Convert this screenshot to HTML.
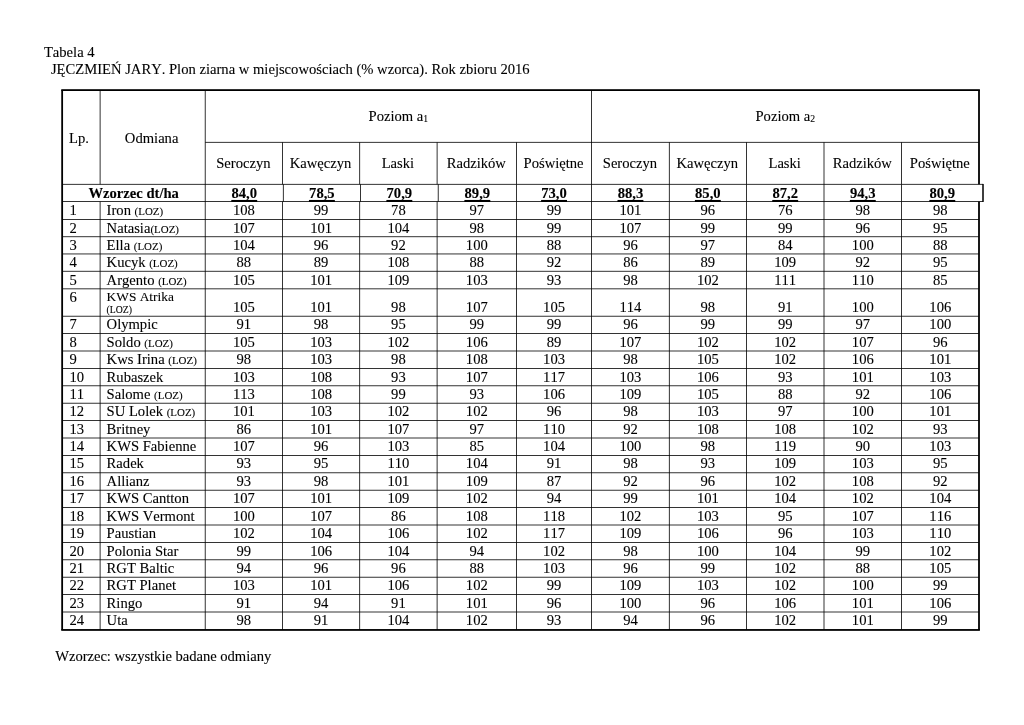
<!DOCTYPE html>
<html lang="pl"><head><meta charset="utf-8"><title>Tabela 4</title><style>
html,body{margin:0;padding:0;background:#fff;}
body{width:1024px;height:725px;position:relative;overflow:hidden;font-family:"Liberation Serif",serif;font-size:14.62px;color:#000;font-kerning:none;font-variant-ligatures:none;-webkit-text-stroke:0.1px #000;}
.t{position:absolute;line-height:20px;height:20px;white-space:nowrap;}
.b{font-weight:bold;}
.s{font-size:10.95px;}
.sub{font-size:9.7px;position:relative;top:1px;}
.grid{position:absolute;left:0;top:0;}
</style></head>
<body>
<svg class="grid" width="1024" height="725" viewBox="0 0 1024 725">
<rect x="205.20" y="141.90" width="773.80" height="0.80" fill="#000"/>
<rect x="62.15" y="183.90" width="920.85" height="0.80" fill="#000"/>
<rect x="62.15" y="201.20" width="920.85" height="0.80" fill="#000"/>
<rect x="62.15" y="219.00" width="916.85" height="0.80" fill="#000"/>
<rect x="62.15" y="236.35" width="916.85" height="0.80" fill="#000"/>
<rect x="62.15" y="253.55" width="916.85" height="0.80" fill="#000"/>
<rect x="62.15" y="270.85" width="916.85" height="0.80" fill="#000"/>
<rect x="62.15" y="288.45" width="916.85" height="0.80" fill="#000"/>
<rect x="62.15" y="315.80" width="916.85" height="0.80" fill="#000"/>
<rect x="62.15" y="333.20" width="916.85" height="0.80" fill="#000"/>
<rect x="62.15" y="350.60" width="916.85" height="0.80" fill="#000"/>
<rect x="62.15" y="368.00" width="916.85" height="0.80" fill="#000"/>
<rect x="62.15" y="385.40" width="916.85" height="0.80" fill="#000"/>
<rect x="62.15" y="402.80" width="916.85" height="0.80" fill="#000"/>
<rect x="62.15" y="420.20" width="916.85" height="0.80" fill="#000"/>
<rect x="62.15" y="437.60" width="916.85" height="0.80" fill="#000"/>
<rect x="62.15" y="455.00" width="916.85" height="0.80" fill="#000"/>
<rect x="62.15" y="472.40" width="916.85" height="0.80" fill="#000"/>
<rect x="62.15" y="489.80" width="916.85" height="0.80" fill="#000"/>
<rect x="62.15" y="507.20" width="916.85" height="0.80" fill="#000"/>
<rect x="62.15" y="524.60" width="916.85" height="0.80" fill="#000"/>
<rect x="62.15" y="542.00" width="916.85" height="0.80" fill="#000"/>
<rect x="62.15" y="559.40" width="916.85" height="0.80" fill="#000"/>
<rect x="62.15" y="576.80" width="916.85" height="0.80" fill="#000"/>
<rect x="62.15" y="594.20" width="916.85" height="0.80" fill="#000"/>
<rect x="62.15" y="611.60" width="916.85" height="0.80" fill="#000"/>
<rect x="99.70" y="90.10" width="0.80" height="94.20" fill="#000"/>
<rect x="99.70" y="201.60" width="0.80" height="428.35" fill="#000"/>
<rect x="204.80" y="90.10" width="0.80" height="539.85" fill="#000"/>
<rect x="591.20" y="90.10" width="0.80" height="539.85" fill="#000"/>
<rect x="282.10" y="142.30" width="0.80" height="42.00" fill="#000"/>
<rect x="282.10" y="201.60" width="0.80" height="428.35" fill="#000"/>
<rect x="359.30" y="142.30" width="0.80" height="42.00" fill="#000"/>
<rect x="359.30" y="201.60" width="0.80" height="428.35" fill="#000"/>
<rect x="436.70" y="142.30" width="0.80" height="42.00" fill="#000"/>
<rect x="436.70" y="201.60" width="0.80" height="428.35" fill="#000"/>
<rect x="516.10" y="142.30" width="0.80" height="42.00" fill="#000"/>
<rect x="516.10" y="201.60" width="0.80" height="428.35" fill="#000"/>
<rect x="668.90" y="142.30" width="0.80" height="42.00" fill="#000"/>
<rect x="668.90" y="201.60" width="0.80" height="428.35" fill="#000"/>
<rect x="746.00" y="142.30" width="0.80" height="42.00" fill="#000"/>
<rect x="746.00" y="201.60" width="0.80" height="428.35" fill="#000"/>
<rect x="823.60" y="142.30" width="0.80" height="42.00" fill="#000"/>
<rect x="823.60" y="201.60" width="0.80" height="428.35" fill="#000"/>
<rect x="901.20" y="142.30" width="0.80" height="42.00" fill="#000"/>
<rect x="901.20" y="201.60" width="0.80" height="428.35" fill="#000"/>
<rect x="282.90" y="184.30" width="0.80" height="17.30" fill="#000"/>
<rect x="360.10" y="184.30" width="0.80" height="17.30" fill="#000"/>
<rect x="437.80" y="184.30" width="0.80" height="17.30" fill="#000"/>
<rect x="516.10" y="184.30" width="0.80" height="17.30" fill="#000"/>
<rect x="668.90" y="184.30" width="0.80" height="17.30" fill="#000"/>
<rect x="746.00" y="184.30" width="0.80" height="17.30" fill="#000"/>
<rect x="823.60" y="184.30" width="0.80" height="17.30" fill="#000"/>
<rect x="901.20" y="184.30" width="0.80" height="17.30" fill="#000"/>
<rect x="982.25" y="183.95" width="1.50" height="18.00" fill="#000"/>
<rect x="61.25" y="89.20" width="918.65" height="1.80" fill="#000"/>
<rect x="61.25" y="629.05" width="918.65" height="1.80" fill="#000"/>
<rect x="61.25" y="90.10" width="1.80" height="539.85" fill="#000"/>
<rect x="978.10" y="90.10" width="1.80" height="94.20" fill="#000"/>
<rect x="978.10" y="201.60" width="1.80" height="428.35" fill="#000"/>
<rect x="231.30" y="199.95" width="25.9" height="2.05" fill="#000"/>
<rect x="308.95" y="199.95" width="25.9" height="2.05" fill="#000"/>
<rect x="386.40" y="199.95" width="25.9" height="2.05" fill="#000"/>
<rect x="464.40" y="199.95" width="25.9" height="2.05" fill="#000"/>
<rect x="541.10" y="199.95" width="25.9" height="2.05" fill="#000"/>
<rect x="617.50" y="199.95" width="25.9" height="2.05" fill="#000"/>
<rect x="694.90" y="199.95" width="25.9" height="2.05" fill="#000"/>
<rect x="772.25" y="199.95" width="25.9" height="2.05" fill="#000"/>
<rect x="849.85" y="199.95" width="25.9" height="2.05" fill="#000"/>
<rect x="929.35" y="199.95" width="25.9" height="2.05" fill="#000"/>
</svg>
<div class="t" style="top:42px;left:43.90px;">Tabela 4</div>
<div class="t" style="top:59px;left:50.90px;white-space:pre;">JĘCZMIEŃ JARY. Plon ziarna w miejscowościach (% wzorca). Rok zbioru 2016</div>
<div class="t" style="top:646px;left:55.20px;letter-spacing:-0.03px;">Wzorzec: wszystkie badane odmiany</div>
<div class="t" style="top:128px;left:69.00px;">Lp.</div>
<div class="t" style="top:128px;left:51.65px;width:200px;text-align:center;">Odmiana</div>
<div class="t" style="top:106px;left:298.40px;width:200px;text-align:center;">Poziom a<span class="sub">1</span></div>
<div class="t" style="top:106px;left:685.30px;width:200px;text-align:center;">Poziom a<span class="sub">2</span></div>
<div class="t" style="top:153px;left:143.35px;width:200px;text-align:center;">Seroczyn</div>
<div class="t" style="top:153px;left:220.60px;width:200px;text-align:center;">Kawęczyn</div>
<div class="t" style="top:153px;left:297.90px;width:200px;text-align:center;">Laski</div>
<div class="t" style="top:153px;left:376.30px;width:200px;text-align:center;">Radzików</div>
<div class="t" style="top:153px;left:453.55px;width:200px;text-align:center;">Poświętne</div>
<div class="t" style="top:153px;left:529.95px;width:200px;text-align:center;">Seroczyn</div>
<div class="t" style="top:153px;left:607.35px;width:200px;text-align:center;">Kawęczyn</div>
<div class="t" style="top:153px;left:684.70px;width:200px;text-align:center;">Laski</div>
<div class="t" style="top:153px;left:762.30px;width:200px;text-align:center;">Radzików</div>
<div class="t" style="top:153px;left:839.80px;width:200px;text-align:center;">Poświętne</div>
<div class="t b" style="top:183px;left:33.67px;width:200px;text-align:center;">Wzorzec dt/ha</div>
<div class="t b" style="top:183px;left:144.25px;width:200px;text-align:center;">84,0</div>
<div class="t b" style="top:183px;left:221.90px;width:200px;text-align:center;">78,5</div>
<div class="t b" style="top:183px;left:299.35px;width:200px;text-align:center;">70,9</div>
<div class="t b" style="top:183px;left:377.35px;width:200px;text-align:center;">89,9</div>
<div class="t b" style="top:183px;left:454.05px;width:200px;text-align:center;">73,0</div>
<div class="t b" style="top:183px;left:530.45px;width:200px;text-align:center;">88,3</div>
<div class="t b" style="top:183px;left:607.85px;width:200px;text-align:center;">85,0</div>
<div class="t b" style="top:183px;left:685.20px;width:200px;text-align:center;">87,2</div>
<div class="t b" style="top:183px;left:762.80px;width:200px;text-align:center;">94,3</div>
<div class="t b" style="top:183px;left:842.30px;width:200px;text-align:center;">80,9</div>
<div class="t" style="top:200px;left:69.40px;">1</div>
<div class="t" style="top:200px;left:106.60px;white-space:pre;">Iron <span class="s">(LOZ)</span></div>
<div class="t" style="top:200px;left:143.85px;width:200px;text-align:center;">108</div>
<div class="t" style="top:200px;left:221.10px;width:200px;text-align:center;">99</div>
<div class="t" style="top:200px;left:298.40px;width:200px;text-align:center;">78</div>
<div class="t" style="top:200px;left:376.80px;width:200px;text-align:center;">97</div>
<div class="t" style="top:200px;left:454.05px;width:200px;text-align:center;">99</div>
<div class="t" style="top:200px;left:530.45px;width:200px;text-align:center;">101</div>
<div class="t" style="top:200px;left:607.85px;width:200px;text-align:center;">96</div>
<div class="t" style="top:200px;left:685.20px;width:200px;text-align:center;">76</div>
<div class="t" style="top:200px;left:762.80px;width:200px;text-align:center;">98</div>
<div class="t" style="top:200px;left:840.30px;width:200px;text-align:center;">98</div>
<div class="t" style="top:218px;left:69.40px;">2</div>
<div class="t" style="top:218px;left:106.60px;white-space:pre;">Natasia<span class="s">(LOZ)</span></div>
<div class="t" style="top:218px;left:143.85px;width:200px;text-align:center;">107</div>
<div class="t" style="top:218px;left:221.10px;width:200px;text-align:center;">101</div>
<div class="t" style="top:218px;left:298.40px;width:200px;text-align:center;">104</div>
<div class="t" style="top:218px;left:376.80px;width:200px;text-align:center;">98</div>
<div class="t" style="top:218px;left:454.05px;width:200px;text-align:center;">99</div>
<div class="t" style="top:218px;left:530.45px;width:200px;text-align:center;">107</div>
<div class="t" style="top:218px;left:607.85px;width:200px;text-align:center;">99</div>
<div class="t" style="top:218px;left:685.20px;width:200px;text-align:center;">99</div>
<div class="t" style="top:218px;left:762.80px;width:200px;text-align:center;">96</div>
<div class="t" style="top:218px;left:840.30px;width:200px;text-align:center;">95</div>
<div class="t" style="top:235px;left:69.40px;">3</div>
<div class="t" style="top:235px;left:106.60px;white-space:pre;">Ella <span class="s">(LOZ)</span></div>
<div class="t" style="top:235px;left:143.85px;width:200px;text-align:center;">104</div>
<div class="t" style="top:235px;left:221.10px;width:200px;text-align:center;">96</div>
<div class="t" style="top:235px;left:298.40px;width:200px;text-align:center;">92</div>
<div class="t" style="top:235px;left:376.80px;width:200px;text-align:center;">100</div>
<div class="t" style="top:235px;left:454.05px;width:200px;text-align:center;">88</div>
<div class="t" style="top:235px;left:530.45px;width:200px;text-align:center;">96</div>
<div class="t" style="top:235px;left:607.85px;width:200px;text-align:center;">97</div>
<div class="t" style="top:235px;left:685.20px;width:200px;text-align:center;">84</div>
<div class="t" style="top:235px;left:762.80px;width:200px;text-align:center;">100</div>
<div class="t" style="top:235px;left:840.30px;width:200px;text-align:center;">88</div>
<div class="t" style="top:252px;left:69.40px;">4</div>
<div class="t" style="top:252px;left:106.60px;white-space:pre;">Kucyk <span class="s">(LOZ)</span></div>
<div class="t" style="top:252px;left:143.85px;width:200px;text-align:center;">88</div>
<div class="t" style="top:252px;left:221.10px;width:200px;text-align:center;">89</div>
<div class="t" style="top:252px;left:298.40px;width:200px;text-align:center;">108</div>
<div class="t" style="top:252px;left:376.80px;width:200px;text-align:center;">88</div>
<div class="t" style="top:252px;left:454.05px;width:200px;text-align:center;">92</div>
<div class="t" style="top:252px;left:530.45px;width:200px;text-align:center;">86</div>
<div class="t" style="top:252px;left:607.85px;width:200px;text-align:center;">89</div>
<div class="t" style="top:252px;left:685.20px;width:200px;text-align:center;">109</div>
<div class="t" style="top:252px;left:762.80px;width:200px;text-align:center;">92</div>
<div class="t" style="top:252px;left:840.30px;width:200px;text-align:center;">95</div>
<div class="t" style="top:270px;left:69.40px;">5</div>
<div class="t" style="top:270px;left:106.60px;white-space:pre;">Argento <span class="s">(LOZ)</span></div>
<div class="t" style="top:270px;left:143.85px;width:200px;text-align:center;">105</div>
<div class="t" style="top:270px;left:221.10px;width:200px;text-align:center;">101</div>
<div class="t" style="top:270px;left:298.40px;width:200px;text-align:center;">109</div>
<div class="t" style="top:270px;left:376.80px;width:200px;text-align:center;">103</div>
<div class="t" style="top:270px;left:454.05px;width:200px;text-align:center;">93</div>
<div class="t" style="top:270px;left:530.45px;width:200px;text-align:center;">98</div>
<div class="t" style="top:270px;left:607.85px;width:200px;text-align:center;">102</div>
<div class="t" style="top:270px;left:685.20px;width:200px;text-align:center;">111</div>
<div class="t" style="top:270px;left:762.80px;width:200px;text-align:center;">110</div>
<div class="t" style="top:270px;left:840.30px;width:200px;text-align:center;">85</div>
<div class="t" style="top:287px;left:69.40px;">6</div>
<div class="t" style="top:287px;left:106.60px;font-size:13.38px;">KWS Atrika</div>
<div class="t" style="top:300px;left:106.60px;font-size:9.73px;">(LOZ)</div>
<div class="t" style="top:297px;left:143.85px;width:200px;text-align:center;">105</div>
<div class="t" style="top:297px;left:221.10px;width:200px;text-align:center;">101</div>
<div class="t" style="top:297px;left:298.40px;width:200px;text-align:center;">98</div>
<div class="t" style="top:297px;left:376.80px;width:200px;text-align:center;">107</div>
<div class="t" style="top:297px;left:454.05px;width:200px;text-align:center;">105</div>
<div class="t" style="top:297px;left:530.45px;width:200px;text-align:center;">114</div>
<div class="t" style="top:297px;left:607.85px;width:200px;text-align:center;">98</div>
<div class="t" style="top:297px;left:685.20px;width:200px;text-align:center;">91</div>
<div class="t" style="top:297px;left:762.80px;width:200px;text-align:center;">100</div>
<div class="t" style="top:297px;left:840.30px;width:200px;text-align:center;">106</div>
<div class="t" style="top:314px;left:69.40px;">7</div>
<div class="t" style="top:314px;left:106.60px;white-space:pre;">Olympic</div>
<div class="t" style="top:314px;left:143.85px;width:200px;text-align:center;">91</div>
<div class="t" style="top:314px;left:221.10px;width:200px;text-align:center;">98</div>
<div class="t" style="top:314px;left:298.40px;width:200px;text-align:center;">95</div>
<div class="t" style="top:314px;left:376.80px;width:200px;text-align:center;">99</div>
<div class="t" style="top:314px;left:454.05px;width:200px;text-align:center;">99</div>
<div class="t" style="top:314px;left:530.45px;width:200px;text-align:center;">96</div>
<div class="t" style="top:314px;left:607.85px;width:200px;text-align:center;">99</div>
<div class="t" style="top:314px;left:685.20px;width:200px;text-align:center;">99</div>
<div class="t" style="top:314px;left:762.80px;width:200px;text-align:center;">97</div>
<div class="t" style="top:314px;left:840.30px;width:200px;text-align:center;">100</div>
<div class="t" style="top:332px;left:69.40px;">8</div>
<div class="t" style="top:332px;left:106.60px;white-space:pre;">Soldo <span class="s">(LOZ)</span></div>
<div class="t" style="top:332px;left:143.85px;width:200px;text-align:center;">105</div>
<div class="t" style="top:332px;left:221.10px;width:200px;text-align:center;">103</div>
<div class="t" style="top:332px;left:298.40px;width:200px;text-align:center;">102</div>
<div class="t" style="top:332px;left:376.80px;width:200px;text-align:center;">106</div>
<div class="t" style="top:332px;left:454.05px;width:200px;text-align:center;">89</div>
<div class="t" style="top:332px;left:530.45px;width:200px;text-align:center;">107</div>
<div class="t" style="top:332px;left:607.85px;width:200px;text-align:center;">102</div>
<div class="t" style="top:332px;left:685.20px;width:200px;text-align:center;">102</div>
<div class="t" style="top:332px;left:762.80px;width:200px;text-align:center;">107</div>
<div class="t" style="top:332px;left:840.30px;width:200px;text-align:center;">96</div>
<div class="t" style="top:349px;left:69.40px;">9</div>
<div class="t" style="top:349px;left:106.60px;white-space:pre;">Kws Irina <span class="s">(LOZ)</span></div>
<div class="t" style="top:349px;left:143.85px;width:200px;text-align:center;">98</div>
<div class="t" style="top:349px;left:221.10px;width:200px;text-align:center;">103</div>
<div class="t" style="top:349px;left:298.40px;width:200px;text-align:center;">98</div>
<div class="t" style="top:349px;left:376.80px;width:200px;text-align:center;">108</div>
<div class="t" style="top:349px;left:454.05px;width:200px;text-align:center;">103</div>
<div class="t" style="top:349px;left:530.45px;width:200px;text-align:center;">98</div>
<div class="t" style="top:349px;left:607.85px;width:200px;text-align:center;">105</div>
<div class="t" style="top:349px;left:685.20px;width:200px;text-align:center;">102</div>
<div class="t" style="top:349px;left:762.80px;width:200px;text-align:center;">106</div>
<div class="t" style="top:349px;left:840.30px;width:200px;text-align:center;">101</div>
<div class="t" style="top:367px;left:69.40px;">10</div>
<div class="t" style="top:367px;left:106.60px;white-space:pre;">Rubaszek</div>
<div class="t" style="top:367px;left:143.85px;width:200px;text-align:center;">103</div>
<div class="t" style="top:367px;left:221.10px;width:200px;text-align:center;">108</div>
<div class="t" style="top:367px;left:298.40px;width:200px;text-align:center;">93</div>
<div class="t" style="top:367px;left:376.80px;width:200px;text-align:center;">107</div>
<div class="t" style="top:367px;left:454.05px;width:200px;text-align:center;">117</div>
<div class="t" style="top:367px;left:530.45px;width:200px;text-align:center;">103</div>
<div class="t" style="top:367px;left:607.85px;width:200px;text-align:center;">106</div>
<div class="t" style="top:367px;left:685.20px;width:200px;text-align:center;">93</div>
<div class="t" style="top:367px;left:762.80px;width:200px;text-align:center;">101</div>
<div class="t" style="top:367px;left:840.30px;width:200px;text-align:center;">103</div>
<div class="t" style="top:384px;left:69.40px;">11</div>
<div class="t" style="top:384px;left:106.60px;white-space:pre;">Salome <span class="s">(LOZ)</span></div>
<div class="t" style="top:384px;left:143.85px;width:200px;text-align:center;">113</div>
<div class="t" style="top:384px;left:221.10px;width:200px;text-align:center;">108</div>
<div class="t" style="top:384px;left:298.40px;width:200px;text-align:center;">99</div>
<div class="t" style="top:384px;left:376.80px;width:200px;text-align:center;">93</div>
<div class="t" style="top:384px;left:454.05px;width:200px;text-align:center;">106</div>
<div class="t" style="top:384px;left:530.45px;width:200px;text-align:center;">109</div>
<div class="t" style="top:384px;left:607.85px;width:200px;text-align:center;">105</div>
<div class="t" style="top:384px;left:685.20px;width:200px;text-align:center;">88</div>
<div class="t" style="top:384px;left:762.80px;width:200px;text-align:center;">92</div>
<div class="t" style="top:384px;left:840.30px;width:200px;text-align:center;">106</div>
<div class="t" style="top:401px;left:69.40px;">12</div>
<div class="t" style="top:401px;left:106.60px;white-space:pre;">SU Lolek <span class="s">(LOZ)</span></div>
<div class="t" style="top:401px;left:143.85px;width:200px;text-align:center;">101</div>
<div class="t" style="top:401px;left:221.10px;width:200px;text-align:center;">103</div>
<div class="t" style="top:401px;left:298.40px;width:200px;text-align:center;">102</div>
<div class="t" style="top:401px;left:376.80px;width:200px;text-align:center;">102</div>
<div class="t" style="top:401px;left:454.05px;width:200px;text-align:center;">96</div>
<div class="t" style="top:401px;left:530.45px;width:200px;text-align:center;">98</div>
<div class="t" style="top:401px;left:607.85px;width:200px;text-align:center;">103</div>
<div class="t" style="top:401px;left:685.20px;width:200px;text-align:center;">97</div>
<div class="t" style="top:401px;left:762.80px;width:200px;text-align:center;">100</div>
<div class="t" style="top:401px;left:840.30px;width:200px;text-align:center;">101</div>
<div class="t" style="top:419px;left:69.40px;">13</div>
<div class="t" style="top:419px;left:106.60px;white-space:pre;">Britney</div>
<div class="t" style="top:419px;left:143.85px;width:200px;text-align:center;">86</div>
<div class="t" style="top:419px;left:221.10px;width:200px;text-align:center;">101</div>
<div class="t" style="top:419px;left:298.40px;width:200px;text-align:center;">107</div>
<div class="t" style="top:419px;left:376.80px;width:200px;text-align:center;">97</div>
<div class="t" style="top:419px;left:454.05px;width:200px;text-align:center;">110</div>
<div class="t" style="top:419px;left:530.45px;width:200px;text-align:center;">92</div>
<div class="t" style="top:419px;left:607.85px;width:200px;text-align:center;">108</div>
<div class="t" style="top:419px;left:685.20px;width:200px;text-align:center;">108</div>
<div class="t" style="top:419px;left:762.80px;width:200px;text-align:center;">102</div>
<div class="t" style="top:419px;left:840.30px;width:200px;text-align:center;">93</div>
<div class="t" style="top:436px;left:69.40px;">14</div>
<div class="t" style="top:436px;left:106.60px;white-space:pre;">KWS Fabienne</div>
<div class="t" style="top:436px;left:143.85px;width:200px;text-align:center;">107</div>
<div class="t" style="top:436px;left:221.10px;width:200px;text-align:center;">96</div>
<div class="t" style="top:436px;left:298.40px;width:200px;text-align:center;">103</div>
<div class="t" style="top:436px;left:376.80px;width:200px;text-align:center;">85</div>
<div class="t" style="top:436px;left:454.05px;width:200px;text-align:center;">104</div>
<div class="t" style="top:436px;left:530.45px;width:200px;text-align:center;">100</div>
<div class="t" style="top:436px;left:607.85px;width:200px;text-align:center;">98</div>
<div class="t" style="top:436px;left:685.20px;width:200px;text-align:center;">119</div>
<div class="t" style="top:436px;left:762.80px;width:200px;text-align:center;">90</div>
<div class="t" style="top:436px;left:840.30px;width:200px;text-align:center;">103</div>
<div class="t" style="top:453px;left:69.40px;">15</div>
<div class="t" style="top:453px;left:106.60px;white-space:pre;">Radek</div>
<div class="t" style="top:453px;left:143.85px;width:200px;text-align:center;">93</div>
<div class="t" style="top:453px;left:221.10px;width:200px;text-align:center;">95</div>
<div class="t" style="top:453px;left:298.40px;width:200px;text-align:center;">110</div>
<div class="t" style="top:453px;left:376.80px;width:200px;text-align:center;">104</div>
<div class="t" style="top:453px;left:454.05px;width:200px;text-align:center;">91</div>
<div class="t" style="top:453px;left:530.45px;width:200px;text-align:center;">98</div>
<div class="t" style="top:453px;left:607.85px;width:200px;text-align:center;">93</div>
<div class="t" style="top:453px;left:685.20px;width:200px;text-align:center;">109</div>
<div class="t" style="top:453px;left:762.80px;width:200px;text-align:center;">103</div>
<div class="t" style="top:453px;left:840.30px;width:200px;text-align:center;">95</div>
<div class="t" style="top:471px;left:69.40px;">16</div>
<div class="t" style="top:471px;left:106.60px;white-space:pre;">Allianz</div>
<div class="t" style="top:471px;left:143.85px;width:200px;text-align:center;">93</div>
<div class="t" style="top:471px;left:221.10px;width:200px;text-align:center;">98</div>
<div class="t" style="top:471px;left:298.40px;width:200px;text-align:center;">101</div>
<div class="t" style="top:471px;left:376.80px;width:200px;text-align:center;">109</div>
<div class="t" style="top:471px;left:454.05px;width:200px;text-align:center;">87</div>
<div class="t" style="top:471px;left:530.45px;width:200px;text-align:center;">92</div>
<div class="t" style="top:471px;left:607.85px;width:200px;text-align:center;">96</div>
<div class="t" style="top:471px;left:685.20px;width:200px;text-align:center;">102</div>
<div class="t" style="top:471px;left:762.80px;width:200px;text-align:center;">108</div>
<div class="t" style="top:471px;left:840.30px;width:200px;text-align:center;">92</div>
<div class="t" style="top:488px;left:69.40px;">17</div>
<div class="t" style="top:488px;left:106.60px;white-space:pre;">KWS Cantton</div>
<div class="t" style="top:488px;left:143.85px;width:200px;text-align:center;">107</div>
<div class="t" style="top:488px;left:221.10px;width:200px;text-align:center;">101</div>
<div class="t" style="top:488px;left:298.40px;width:200px;text-align:center;">109</div>
<div class="t" style="top:488px;left:376.80px;width:200px;text-align:center;">102</div>
<div class="t" style="top:488px;left:454.05px;width:200px;text-align:center;">94</div>
<div class="t" style="top:488px;left:530.45px;width:200px;text-align:center;">99</div>
<div class="t" style="top:488px;left:607.85px;width:200px;text-align:center;">101</div>
<div class="t" style="top:488px;left:685.20px;width:200px;text-align:center;">104</div>
<div class="t" style="top:488px;left:762.80px;width:200px;text-align:center;">102</div>
<div class="t" style="top:488px;left:840.30px;width:200px;text-align:center;">104</div>
<div class="t" style="top:506px;left:69.40px;">18</div>
<div class="t" style="top:506px;left:106.60px;white-space:pre;">KWS Vermont</div>
<div class="t" style="top:506px;left:143.85px;width:200px;text-align:center;">100</div>
<div class="t" style="top:506px;left:221.10px;width:200px;text-align:center;">107</div>
<div class="t" style="top:506px;left:298.40px;width:200px;text-align:center;">86</div>
<div class="t" style="top:506px;left:376.80px;width:200px;text-align:center;">108</div>
<div class="t" style="top:506px;left:454.05px;width:200px;text-align:center;">118</div>
<div class="t" style="top:506px;left:530.45px;width:200px;text-align:center;">102</div>
<div class="t" style="top:506px;left:607.85px;width:200px;text-align:center;">103</div>
<div class="t" style="top:506px;left:685.20px;width:200px;text-align:center;">95</div>
<div class="t" style="top:506px;left:762.80px;width:200px;text-align:center;">107</div>
<div class="t" style="top:506px;left:840.30px;width:200px;text-align:center;">116</div>
<div class="t" style="top:523px;left:69.40px;">19</div>
<div class="t" style="top:523px;left:106.60px;white-space:pre;">Paustian</div>
<div class="t" style="top:523px;left:143.85px;width:200px;text-align:center;">102</div>
<div class="t" style="top:523px;left:221.10px;width:200px;text-align:center;">104</div>
<div class="t" style="top:523px;left:298.40px;width:200px;text-align:center;">106</div>
<div class="t" style="top:523px;left:376.80px;width:200px;text-align:center;">102</div>
<div class="t" style="top:523px;left:454.05px;width:200px;text-align:center;">117</div>
<div class="t" style="top:523px;left:530.45px;width:200px;text-align:center;">109</div>
<div class="t" style="top:523px;left:607.85px;width:200px;text-align:center;">106</div>
<div class="t" style="top:523px;left:685.20px;width:200px;text-align:center;">96</div>
<div class="t" style="top:523px;left:762.80px;width:200px;text-align:center;">103</div>
<div class="t" style="top:523px;left:840.30px;width:200px;text-align:center;">110</div>
<div class="t" style="top:541px;left:69.40px;">20</div>
<div class="t" style="top:541px;left:106.60px;white-space:pre;">Polonia Star</div>
<div class="t" style="top:541px;left:143.85px;width:200px;text-align:center;">99</div>
<div class="t" style="top:541px;left:221.10px;width:200px;text-align:center;">106</div>
<div class="t" style="top:541px;left:298.40px;width:200px;text-align:center;">104</div>
<div class="t" style="top:541px;left:376.80px;width:200px;text-align:center;">94</div>
<div class="t" style="top:541px;left:454.05px;width:200px;text-align:center;">102</div>
<div class="t" style="top:541px;left:530.45px;width:200px;text-align:center;">98</div>
<div class="t" style="top:541px;left:607.85px;width:200px;text-align:center;">100</div>
<div class="t" style="top:541px;left:685.20px;width:200px;text-align:center;">104</div>
<div class="t" style="top:541px;left:762.80px;width:200px;text-align:center;">99</div>
<div class="t" style="top:541px;left:840.30px;width:200px;text-align:center;">102</div>
<div class="t" style="top:558px;left:69.40px;">21</div>
<div class="t" style="top:558px;left:106.60px;white-space:pre;">RGT Baltic</div>
<div class="t" style="top:558px;left:143.85px;width:200px;text-align:center;">94</div>
<div class="t" style="top:558px;left:221.10px;width:200px;text-align:center;">96</div>
<div class="t" style="top:558px;left:298.40px;width:200px;text-align:center;">96</div>
<div class="t" style="top:558px;left:376.80px;width:200px;text-align:center;">88</div>
<div class="t" style="top:558px;left:454.05px;width:200px;text-align:center;">103</div>
<div class="t" style="top:558px;left:530.45px;width:200px;text-align:center;">96</div>
<div class="t" style="top:558px;left:607.85px;width:200px;text-align:center;">99</div>
<div class="t" style="top:558px;left:685.20px;width:200px;text-align:center;">102</div>
<div class="t" style="top:558px;left:762.80px;width:200px;text-align:center;">88</div>
<div class="t" style="top:558px;left:840.30px;width:200px;text-align:center;">105</div>
<div class="t" style="top:575px;left:69.40px;">22</div>
<div class="t" style="top:575px;left:106.60px;white-space:pre;">RGT Planet</div>
<div class="t" style="top:575px;left:143.85px;width:200px;text-align:center;">103</div>
<div class="t" style="top:575px;left:221.10px;width:200px;text-align:center;">101</div>
<div class="t" style="top:575px;left:298.40px;width:200px;text-align:center;">106</div>
<div class="t" style="top:575px;left:376.80px;width:200px;text-align:center;">102</div>
<div class="t" style="top:575px;left:454.05px;width:200px;text-align:center;">99</div>
<div class="t" style="top:575px;left:530.45px;width:200px;text-align:center;">109</div>
<div class="t" style="top:575px;left:607.85px;width:200px;text-align:center;">103</div>
<div class="t" style="top:575px;left:685.20px;width:200px;text-align:center;">102</div>
<div class="t" style="top:575px;left:762.80px;width:200px;text-align:center;">100</div>
<div class="t" style="top:575px;left:840.30px;width:200px;text-align:center;">99</div>
<div class="t" style="top:593px;left:69.40px;">23</div>
<div class="t" style="top:593px;left:106.60px;white-space:pre;">Ringo</div>
<div class="t" style="top:593px;left:143.85px;width:200px;text-align:center;">91</div>
<div class="t" style="top:593px;left:221.10px;width:200px;text-align:center;">94</div>
<div class="t" style="top:593px;left:298.40px;width:200px;text-align:center;">91</div>
<div class="t" style="top:593px;left:376.80px;width:200px;text-align:center;">101</div>
<div class="t" style="top:593px;left:454.05px;width:200px;text-align:center;">96</div>
<div class="t" style="top:593px;left:530.45px;width:200px;text-align:center;">100</div>
<div class="t" style="top:593px;left:607.85px;width:200px;text-align:center;">96</div>
<div class="t" style="top:593px;left:685.20px;width:200px;text-align:center;">106</div>
<div class="t" style="top:593px;left:762.80px;width:200px;text-align:center;">101</div>
<div class="t" style="top:593px;left:840.30px;width:200px;text-align:center;">106</div>
<div class="t" style="top:610px;left:69.40px;">24</div>
<div class="t" style="top:610px;left:106.60px;white-space:pre;">Uta</div>
<div class="t" style="top:610px;left:143.85px;width:200px;text-align:center;">98</div>
<div class="t" style="top:610px;left:221.10px;width:200px;text-align:center;">91</div>
<div class="t" style="top:610px;left:298.40px;width:200px;text-align:center;">104</div>
<div class="t" style="top:610px;left:376.80px;width:200px;text-align:center;">102</div>
<div class="t" style="top:610px;left:454.05px;width:200px;text-align:center;">93</div>
<div class="t" style="top:610px;left:530.45px;width:200px;text-align:center;">94</div>
<div class="t" style="top:610px;left:607.85px;width:200px;text-align:center;">96</div>
<div class="t" style="top:610px;left:685.20px;width:200px;text-align:center;">102</div>
<div class="t" style="top:610px;left:762.80px;width:200px;text-align:center;">101</div>
<div class="t" style="top:610px;left:840.30px;width:200px;text-align:center;">99</div>
</body></html>
